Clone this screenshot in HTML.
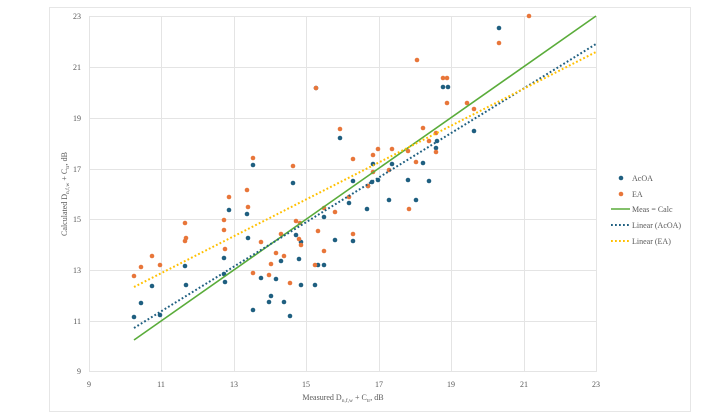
<!DOCTYPE html>
<html><head><meta charset="utf-8"><style>
html,body{margin:0;padding:0;background:#fff;}
svg{display:block;font-family:"Liberation Serif",serif;}
</style></head><body>
<svg width="717" height="412" viewBox="0 0 717 412" xmlns="http://www.w3.org/2000/svg">
<rect x="49.5" y="7.5" width="641" height="404" fill="#fff" stroke="#e6e6e6"/>
<g stroke="#e4e4e4" stroke-width="1">
<line x1="89" y1="16.5" x2="596" y2="16.5"/><line x1="89" y1="67.5" x2="596" y2="67.5"/>
<line x1="89" y1="118.5" x2="596" y2="118.5"/><line x1="89" y1="169.5" x2="596" y2="169.5"/>
<line x1="89" y1="219.5" x2="596" y2="219.5"/><line x1="89" y1="270.5" x2="596" y2="270.5"/>
<line x1="89" y1="321.5" x2="596" y2="321.5"/><line x1="89" y1="371.5" x2="596" y2="371.5"/>
<line x1="89.5" y1="16" x2="89.5" y2="372"/><line x1="161.5" y1="16" x2="161.5" y2="372"/>
<line x1="234.5" y1="16" x2="234.5" y2="372"/><line x1="306.5" y1="16" x2="306.5" y2="372"/>
<line x1="379.5" y1="16" x2="379.5" y2="372"/><line x1="451.5" y1="16" x2="451.5" y2="372"/>
<line x1="524.5" y1="16" x2="524.5" y2="372"/><line x1="596.5" y1="16" x2="596.5" y2="372"/>
</g>
<g font-size="8" fill="#595959" text-anchor="end">
<text x="81" y="19">23</text><text x="81" y="70">21</text><text x="81" y="121">19</text><text x="81" y="172">17</text>
<text x="81" y="222">15</text><text x="81" y="273">13</text><text x="81" y="324">11</text><text x="81" y="374">9</text>
</g>
<g font-size="8" fill="#595959" text-anchor="middle">
<text x="89" y="387">9</text><text x="161" y="387">11</text><text x="234" y="387">13</text><text x="306" y="387">15</text>
<text x="379" y="387">17</text><text x="451" y="387">19</text><text x="524" y="387">21</text><text x="596" y="387">23</text>
<text x="343" y="400">Measured D<tspan font-size="5.5" dy="2">n,f,w</tspan><tspan dy="-2"> + C</tspan><tspan font-size="5.5" dy="2">tr</tspan><tspan dy="-2">, dB</tspan></text>
<text transform="translate(67,194) rotate(-90)">Calculated D<tspan font-size="5.5" dy="2">n,f,w</tspan><tspan dy="-2"> + C</tspan><tspan font-size="5.5" dy="2">tr</tspan><tspan dy="-2">, dB</tspan></text>
</g>
<g fill="#1f5f80">
<circle cx="134" cy="317" r="2.3"/><circle cx="141" cy="303" r="2.3"/><circle cx="152" cy="286" r="2.3"/><circle cx="160" cy="315" r="2.3"/>
<circle cx="185" cy="266" r="2.3"/><circle cx="186" cy="285" r="2.3"/><circle cx="224" cy="258" r="2.3"/><circle cx="224" cy="274" r="2.3"/>
<circle cx="225" cy="282" r="2.3"/><circle cx="229" cy="210" r="2.3"/><circle cx="247" cy="214" r="2.3"/><circle cx="248" cy="238" r="2.3"/>
<circle cx="253" cy="165" r="2.3"/><circle cx="253" cy="310" r="2.3"/><circle cx="261" cy="278" r="2.3"/><circle cx="269" cy="302" r="2.3"/>
<circle cx="271" cy="296" r="2.3"/><circle cx="276" cy="279" r="2.3"/><circle cx="281" cy="261" r="2.3"/><circle cx="284" cy="302" r="2.3"/>
<circle cx="290" cy="316" r="2.3"/><circle cx="293" cy="183" r="2.3"/><circle cx="296" cy="235" r="2.3"/><circle cx="299" cy="259" r="2.3"/>
<circle cx="301" cy="242" r="2.3"/><circle cx="301" cy="285" r="2.3"/><circle cx="315" cy="285" r="2.3"/><circle cx="316" cy="88" r="2.3"/>
<circle cx="318" cy="265" r="2.3"/><circle cx="324" cy="217" r="2.3"/><circle cx="324" cy="265" r="2.3"/><circle cx="335" cy="240" r="2.3"/>
<circle cx="340" cy="138" r="2.3"/><circle cx="349" cy="203" r="2.3"/><circle cx="353" cy="181" r="2.3"/><circle cx="353" cy="241" r="2.3"/>
<circle cx="368" cy="186" r="2.3"/><circle cx="372" cy="182" r="2.3"/><circle cx="373" cy="164" r="2.3"/><circle cx="378" cy="180" r="2.3"/>
<circle cx="389" cy="200" r="2.3"/><circle cx="392" cy="164" r="2.3"/><circle cx="408" cy="180" r="2.3"/><circle cx="416" cy="200" r="2.3"/>
<circle cx="423" cy="163" r="2.3"/><circle cx="429" cy="181" r="2.3"/><circle cx="436" cy="148" r="2.3"/><circle cx="437" cy="141" r="2.3"/>
<circle cx="443" cy="87" r="2.3"/><circle cx="448" cy="87" r="2.3"/><circle cx="474" cy="131" r="2.3"/><circle cx="499" cy="28" r="2.3"/>
<circle cx="367" cy="209" r="2.3"/>
</g>
<g fill="#e8763a">
<circle cx="134" cy="276" r="2.3"/><circle cx="141" cy="267" r="2.3"/><circle cx="152" cy="256" r="2.3"/><circle cx="160" cy="265" r="2.3"/>
<circle cx="185" cy="223" r="2.3"/><circle cx="185" cy="241" r="2.3"/><circle cx="186" cy="238" r="2.3"/><circle cx="224" cy="220" r="2.3"/>
<circle cx="224" cy="230" r="2.3"/><circle cx="225" cy="249" r="2.3"/><circle cx="229" cy="197" r="2.3"/><circle cx="247" cy="190" r="2.3"/>
<circle cx="248" cy="207" r="2.3"/><circle cx="253" cy="158" r="2.3"/><circle cx="253" cy="273" r="2.3"/><circle cx="261" cy="242" r="2.3"/>
<circle cx="269" cy="275" r="2.3"/><circle cx="271" cy="264" r="2.3"/><circle cx="276" cy="253" r="2.3"/><circle cx="281" cy="234" r="2.3"/>
<circle cx="284" cy="256" r="2.3"/><circle cx="290" cy="283" r="2.3"/><circle cx="293" cy="166" r="2.3"/><circle cx="296" cy="221" r="2.3"/>
<circle cx="299" cy="239" r="2.3"/><circle cx="301" cy="245" r="2.3"/><circle cx="300" cy="223" r="2.3"/><circle cx="315" cy="265" r="2.3"/>
<circle cx="316" cy="88" r="2.3"/><circle cx="318" cy="231" r="2.3"/><circle cx="324" cy="208" r="2.3"/><circle cx="324" cy="251" r="2.3"/>
<circle cx="335" cy="212" r="2.3"/><circle cx="340" cy="129" r="2.3"/><circle cx="349" cy="197" r="2.3"/><circle cx="353" cy="159" r="2.3"/>
<circle cx="353" cy="234" r="2.3"/><circle cx="368" cy="186" r="2.3"/><circle cx="373" cy="155" r="2.3"/><circle cx="373" cy="172" r="2.3"/>
<circle cx="378" cy="149" r="2.3"/><circle cx="389" cy="170" r="2.3"/><circle cx="392" cy="149" r="2.3"/><circle cx="408" cy="151" r="2.3"/>
<circle cx="409" cy="209" r="2.3"/><circle cx="416" cy="162" r="2.3"/><circle cx="417" cy="60" r="2.3"/><circle cx="423" cy="128" r="2.3"/>
<circle cx="429" cy="141" r="2.3"/><circle cx="436" cy="133" r="2.3"/><circle cx="436" cy="152" r="2.3"/><circle cx="443" cy="78" r="2.3"/>
<circle cx="447" cy="78" r="2.3"/><circle cx="447" cy="103" r="2.3"/><circle cx="467" cy="103" r="2.3"/><circle cx="474" cy="109" r="2.3"/>
<circle cx="499" cy="43" r="2.3"/><circle cx="529" cy="16" r="2.3"/>
</g>
<line x1="134" y1="340" x2="596" y2="16" stroke="#5aac3a" stroke-width="1.6"/>
<line x1="134" y1="328" x2="596" y2="44" stroke="#1f5f80" stroke-width="2" stroke-dasharray="1.8 2.2"/>
<line x1="134" y1="287" x2="596" y2="52" stroke="#ffc000" stroke-width="2" stroke-dasharray="1.8 2.2"/>
<g font-size="8" fill="#595959">
<circle cx="621" cy="178" r="2.3" fill="#1f5f80"/><text x="632" y="181">AcOA</text>
<circle cx="621" cy="194" r="2.3" fill="#e8763a"/><text x="632" y="197">EA</text>
<line x1="611" y1="209" x2="630" y2="209" stroke="#5aac3a" stroke-width="1.6"/><text x="632" y="212">Meas = Calc</text>
<line x1="611" y1="225" x2="630" y2="225" stroke="#1f5f80" stroke-width="2" stroke-dasharray="1.8 2.2"/><text x="632" y="228">Linear (AcOA)</text>
<line x1="611" y1="241" x2="630" y2="241" stroke="#ffc000" stroke-width="2" stroke-dasharray="1.8 2.2"/><text x="632" y="244">Linear (EA)</text>
</g>
</svg>
</body></html>
